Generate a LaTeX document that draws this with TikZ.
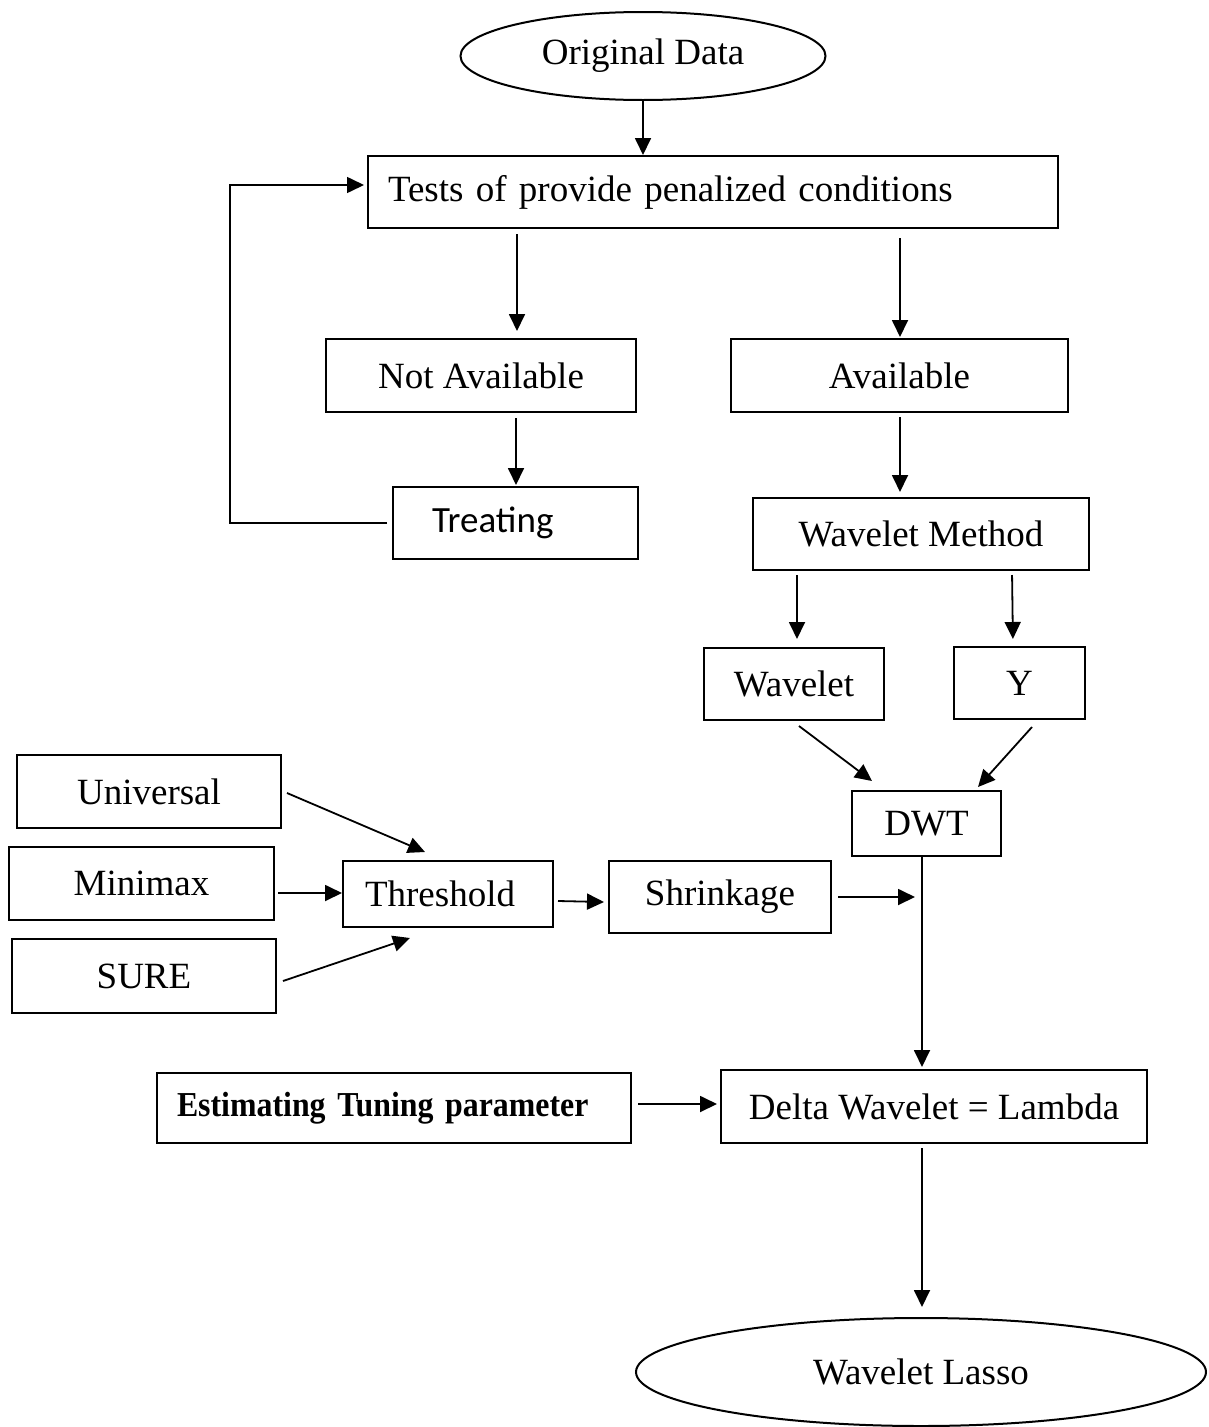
\documentclass[tikz,border=0pt]{standalone}
\usepackage{fontspec}
\setmainfont{Liberation Serif}
\newfontfamily\calib{Carlito}
\newfontfamily\condb[FakeStretch=0.91]{Liberation Serif}
\usetikzlibrary{arrows.meta,shapes.geometric}
\begin{document}
\begin{tikzpicture}[x=1pt,y=-1pt,
  box/.style={draw,line width=2pt,inner sep=0pt,font=\fontsize{37}{44}\selectfont},
  oval/.style={draw,ellipse,line width=2pt,inner sep=0pt,font=\fontsize{37}{44}\selectfont},
  arr/.style={line width=1.8pt,-{Triangle[length=17pt,width=16pt]}},
  lne/.style={line width=1.6pt}]
\useasboundingbox (0,0) rectangle (1208,1427);

% nodes
\node[oval,minimum width=365pt,minimum height=88pt] (od) at (643,56) {Original Data};
\node[box,minimum width=690pt,minimum height=72pt,text width=650pt,align=left,inner xsep=20pt] (tests) at (713,192) {Tests of provide penalized conditions};
\node[box,minimum width=310pt,minimum height=73pt] (na) at (481,375.5) {Not Available};
\node[box,minimum width=337pt,minimum height=73pt] (av) at (899.5,375.5) {Available};
\node[box,minimum width=245pt,minimum height=72pt,text width=167pt,align=left,inner xsep=39pt,font=\calib\fontsize{37}{44}\selectfont] (treat) at (515.5,523) {Treating};
\node[box,minimum width=336pt,minimum height=72pt] (wm) at (921,534) {Wavelet Method};
\node[box,minimum width=180pt,minimum height=72pt] (wav) at (794,684) {Wavelet};
\node[box,minimum width=131pt,minimum height=72pt] (yy) at (1019.5,683) {Y};
\node[box,minimum width=149pt,minimum height=65pt] (dwt) at (926.5,823.5) {DWT};
\node[box,minimum width=264pt,minimum height=73pt] (univ) at (149,791.5) {Universal};
\node[box,minimum width=265pt,minimum height=73pt] (mm) at (141.5,883.5) {Minimax};
\node[box,minimum width=264pt,minimum height=74pt] (sure) at (144,976) {SURE};
\node[box,minimum width=210pt,minimum height=66pt,text width=166pt,align=left,inner xsep=22pt] (thr) at (448,894) {Threshold};
\node[box,minimum width=222pt,minimum height=72pt] (shr) at (720,897) {Shrinkage};
\node[box,minimum width=474pt,minimum height=70pt,text width=434pt,align=left,inner xsep=20pt,font=\condb\bfseries\fontsize{35}{42}\selectfont] (est) at (394,1108) {Estimating Tuning parameter};
\node[box,minimum width=426pt,minimum height=73pt] (delta) at (934,1106.5) {Delta Wavelet = Lambda};
\node[oval,minimum width=570pt,minimum height=108pt] (lasso) at (921,1372) {Wavelet Lasso};
\coordinate (j) at (922,897);

% connectors
\draw[arr] (od.south) -- (tests.north -| od.south);
\draw[arr,shorten <=5pt,shorten >=7pt] (tests.south -| 517,0) -- (na.north -| 517,0);
\draw[arr,shorten <=5pt,shorten >=1pt] (na.south -| 516,0) -- (treat.north -| 516,0);
\draw[lne,-{Triangle[length=17pt,width=16pt]}] ([xshift=-5pt]treat.west) -- ++(-157,0) |- ([yshift=7pt,xshift=-3pt]tests.west);
\draw[arr,shorten <=9pt,shorten >=1pt] (tests.south -| 900,0) -- (av.north -| 900,0);
\draw[arr,shorten <=4pt,shorten >=5pt] (av.south -| 900,0) -- (wm.north -| 900,0);
\draw[arr,shorten <=4pt,shorten >=8pt] (wm.south -| 797,0) -- (wav.north -| 797,0);
\draw[arr,shorten <=4pt,shorten >=7pt] (wm.south -| 1012,0) -- (yy.north -| 1013,0);
\draw[arr] ([xshift=5pt,yshift=-5pt]wav.south) -- ([xshift=-54.5pt,yshift=9pt]dwt.north);
\draw[arr] ([xshift=12.5pt,yshift=-7pt]yy.south) -- ([xshift=51.5pt,yshift=3pt]dwt.north);
\draw[arr] ([xshift=5pt,yshift=-1.5pt]univ.east) -- ([xshift=-23pt,yshift=8pt]thr.north);
\draw[arr] ([xshift=3pt,yshift=-9.5pt]mm.east) -- ([yshift=1pt]thr.west);
\draw[arr] ([xshift=6pt,yshift=-5pt]sure.east) -- ([xshift=-38pt,yshift=-10pt]thr.south);
\draw[arr] ([xshift=4pt,yshift=-7pt]thr.east) -- ([xshift=-4pt,yshift=-5pt]shr.west);
\draw[arr,shorten >=7pt] ([xshift=6pt]shr.east) -- (j);
\draw[arr,shorten >=2pt] (dwt.south -| 922,0) -- (delta.north -| 922,0);
\draw[arr] ([xshift=6pt,yshift=4pt]est.east) -- ([xshift=-3pt,yshift=2.5pt]delta.west);
\draw[arr,shorten <=4pt,shorten >=10pt] (delta.south -| 922,0) -- (lasso.north -| 922,0);
\end{tikzpicture}
\end{document}
